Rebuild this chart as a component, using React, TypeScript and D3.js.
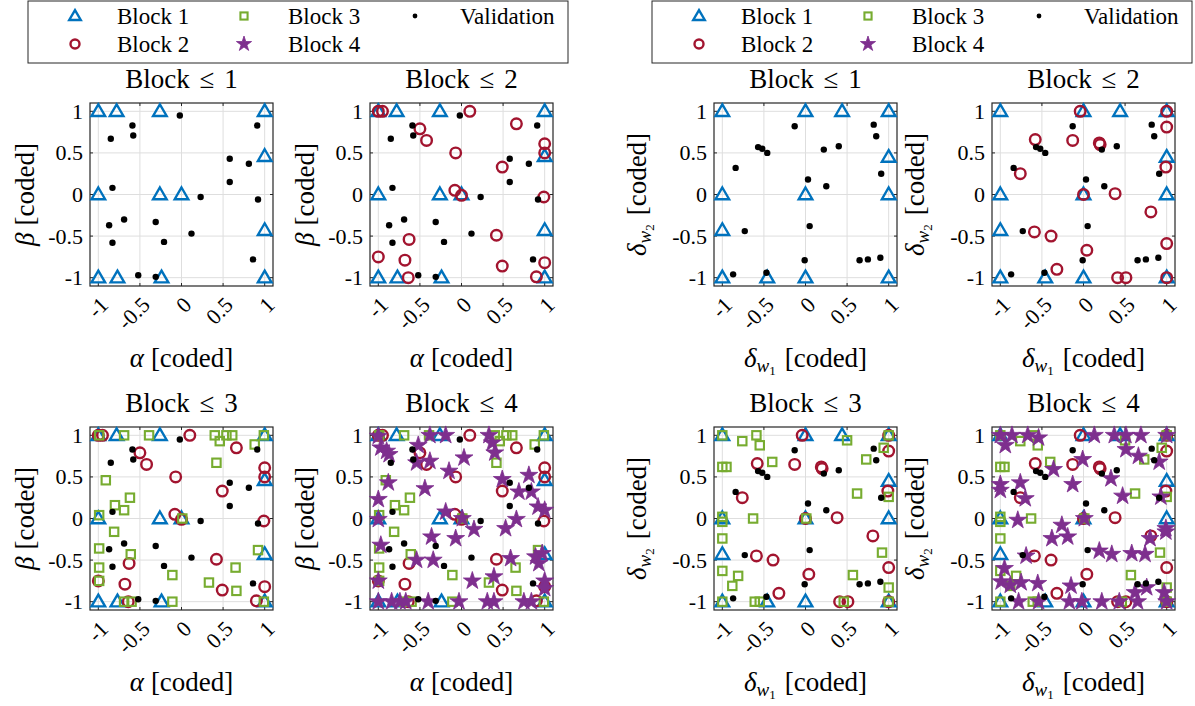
import React from "react";
import * as d3 from "d3";

type Pt = [number, number];

const tickValues = [-1, -0.5, 0, 0.5, 1];
const tickLabels = ["-1", "-0.5", "0", "0.5", "1"];
const legendNames = ["Block 1", "Block 2", "Block 3", "Block 4", "Validation"];
const panelBlocks = [1, 2, 3, 4];

const leftBlock1: Pt[] = [[-1,1],[-0.78,1],[-0.26,1],[1,1],[1,0.46],[-1,0],[-0.26,0],[0,0],[1,-0.43],[-1,-1],[-0.77,-1],[-0.24,-1],[1,-1]];
const leftBlock2: Pt[] = [[-1,1],[-0.95,1],[0.1,1],[0.66,0.85],[-0.5,0.79],[-0.42,0.65],[-0.07,0.5],[1,0.61],[1,0.5],[0.49,0.33],[-0.08,0.05],[0,-0.01],[0.99,-0.03],[0.42,-0.49],[-0.63,-0.54],[-1,-0.75],[-0.68,-0.79],[0.49,-0.86],[1,-0.82],[-0.64,-1],[0.9,-0.99]];
const leftBlock3: Pt[] = [[-0.99,1],[-0.69,1],[-0.39,1],[0.4,1],[0.46,0.93],[0.54,1],[0.61,1],[0.99,1],[0.88,0.89],[0.42,0.67],[-0.91,0.46],[-0.62,0.25],[-0.8,0.16],[-0.69,0.1],[-0.99,0.04],[0.01,0],[-0.81,-0.16],[-0.99,-0.36],[0.92,-0.38],[-0.61,-0.43],[-0.99,-0.59],[0.65,-0.59],[-0.11,-0.68],[-0.99,-0.75],[0.33,-0.77],[0.66,-0.87],[-0.69,-1],[-0.6,-1],[-0.11,-1],[0.99,-1]];
const leftBlock4: Pt[] = [[-1,0.99],[-0.38,1],[-0.19,1],[0.33,1],[0.37,0.91],[-0.97,0.85],[-0.9,0.81],[-0.87,0.77],[-0.52,0.88],[-0.54,0.67],[-0.38,0.69],[0.03,0.73],[0.4,0.79],[-0.15,0.57],[-0.88,0.43],[0.49,0.47],[0.81,0.52],[0.69,0.32],[0.84,0.32],[-0.44,0.36],[-1,0.23],[0.92,0.14],[1,0.1],[-0.19,0.08],[0.01,0],[-1,-0.01],[0.66,-0.01],[0.53,-0.12],[0.15,-0.13],[-0.36,-0.22],[-0.07,-0.24],[-0.97,-0.32],[-0.54,-0.5],[-0.34,-0.5],[0.59,-0.48],[0.89,-0.46],[0.97,-0.42],[0.93,-0.54],[0.39,-0.7],[0.13,-0.75],[-1,-0.75],[1,-0.75],[1,-0.84],[-1,-1],[-0.84,-1],[-0.74,-1],[-0.67,-1],[-0.4,-1],[-0.03,-1],[0.31,-1],[0.39,-1],[0.75,-1],[0.84,-1]];
const leftValidation: Pt[] = [[-0.02,0.95],[-0.59,0.83],[0.91,0.83],[-0.85,0.67],[-0.58,0.71],[0.58,0.43],[0.81,0.37],[0.58,0.15],[-0.83,0.08],[0.23,-0.03],[0.92,-0.06],[-0.69,-0.3],[-0.87,-0.37],[-0.31,-0.33],[0.12,-0.47],[-0.83,-0.58],[-0.21,-0.57],[0.86,-0.78],[-0.52,-0.97],[-0.31,-0.99]];

const rightBlock1: Pt[] = [[-1,1],[0,1],[0.44,1],[1,1],[1,0.45],[-1,0],[0,0],[1,0],[-1,-0.43],[-1,-1],[-0.46,-1],[0,-1],[1,-1]];
const rightBlock2: Pt[] = [[-0.04,1],[1,1],[1,0.81],[-0.58,0.66],[-0.13,0.65],[0.19,0.62],[0.2,0.6],[0.99,0.33],[-0.76,0.25],[0,0],[0.38,0.01],[0.81,-0.21],[-0.59,-0.45],[-0.39,-0.5],[1,-0.59],[0.04,-0.67],[-0.32,-0.9],[0.41,-1],[0.51,-1],[1,-1]];
const rightBlock3: Pt[] = [[-1,1],[-0.76,0.93],[-0.59,1],[-0.55,0.88],[0.5,0.94],[1,1],[0.94,0.85],[0.73,0.71],[-0.4,0.68],[-1,0.62],[-0.95,0.62],[0.62,0.3],[1,0.26],[-1,0.02],[-1,-0.04],[-0.63,0],[0.01,0],[-1,-0.24],[0.92,-0.41],[-1,-0.63],[-0.81,-0.69],[-0.88,-0.81],[0.57,-0.68],[1,-0.83],[-1,-1],[-0.61,-1],[-0.55,-1],[0.46,-1],[1,-1]];
const rightBlock4: Pt[] = [[-1,1],[-0.86,1],[-0.67,1],[-0.54,0.97],[-0.94,0.88],[0.13,1],[0.37,1],[0.51,1],[0.69,1],[1,1],[0.51,0.83],[0.66,0.75],[0.91,0.68],[-0.01,0.71],[-0.36,0.59],[0.33,0.48],[-0.13,0.41],[-0.76,0.43],[-1,0.41],[-1,0.34],[-0.7,0.24],[0.47,0.27],[0.93,0.26],[-0.79,-0.02],[0.01,0],[-0.26,-0.08],[0.99,-0.12],[0.99,-0.16],[-0.38,-0.24],[-0.19,-0.22],[0.8,-0.24],[-0.69,-0.45],[0.19,-0.39],[0.34,-0.43],[0.58,-0.42],[0.74,-0.43],[-0.95,-0.6],[-0.99,-0.76],[-0.88,-0.8],[-0.75,-0.77],[-0.55,-0.78],[-0.15,-0.81],[0.76,-0.83],[0.62,-0.89],[0.97,-0.89],[-0.78,-1],[-0.54,-1],[-0.17,-1],[-0.02,-1],[0.22,-1],[0.43,-1],[0.65,-1],[1,-1]];
const rightValidation: Pt[] = [[-0.13,0.82],[0.82,0.84],[0.85,0.7],[-0.57,0.57],[-0.52,0.55],[-0.46,0.5],[0.22,0.54],[0.4,0.58],[-0.84,0.32],[0.91,0.25],[0.03,0.18],[0.25,0.1],[0.05,-0.38],[-0.73,-0.44],[-0.01,-0.79],[0.65,-0.79],[0.75,-0.78],[0.9,-0.76],[-0.87,-0.96],[-0.47,-0.94]];

const FONT = "'Liberation Serif', 'DejaVu Serif', 'Noto Serif', 'Times New Roman', Times, serif";
const COLORS = ["#0072BD", "#A2142F", "#77AC30", "#7E2F8E"];
const SIZE = 183;
const AXIS = "#262626";
const GRID = "#dedede";

function starPath(R: number): string {
  const pts: string[] = [];
  for (let i = 0; i < 10; i++) {
    const a = -Math.PI / 2 + (i * Math.PI) / 5;
    const r = i % 2 === 0 ? R : R * 0.382;
    pts.push(`${(r * Math.cos(a)).toFixed(2)},${(r * Math.sin(a)).toFixed(2)}`);
  }
  return "M" + pts.join("L") + "Z";
}

function Marker({ type, x, y, s = 1 }: { type: number; x: number; y: number; s?: number }) {
  const t = `translate(${x},${y})`;
  if (type === 0)
    return <path transform={t} d={`M0,${-7 * s}L${6.8 * s},${4.7 * s}L${-6.8 * s},${4.7 * s}Z`} fill="none" stroke={COLORS[0]} strokeWidth={2.4} strokeLinejoin="miter" />;
  if (type === 1) return <circle cx={x} cy={y} r={5.3 * s} fill="none" stroke={COLORS[1]} strokeWidth={2.4} />;
  if (type === 2) return <rect x={x - 4.2 * s} y={y - 4.2 * s} width={8.4 * s} height={8.4 * s} fill="none" stroke={COLORS[2]} strokeWidth={2.1} />;
  if (type === 3) return <path transform={t} d={starPath(9.4 * s)} fill={COLORS[3]} stroke={COLORS[3]} strokeWidth={0.8} />;
  return <circle cx={x} cy={y} r={3.2 * s} fill="#000" />;
}

function AxisLabel({ kind, x, y, rotate }: { kind: string; x: number; y: number; rotate?: boolean }) {
  const tr = rotate ? `translate(${x},${y}) rotate(-90)` : `translate(${x},${y})`;
  if (kind === "alpha" || kind === "beta") {
    return (
      <text transform={tr} textAnchor="middle" fontFamily={FONT} fontSize={27} fill="#000">
        <tspan fontStyle="italic">{kind === "alpha" ? "α" : "β"}</tspan>
        <tspan dx={7}>[coded]</tspan>
      </text>
    );
  }
  const sub = kind === "dw1" ? "1" : "2";
  return (
    <text transform={tr} textAnchor="middle" fontFamily={FONT} fontSize={27} fill="#000">
      <tspan fontStyle="italic">δ</tspan>
      <tspan fontStyle="italic" fontSize={19} dy={5}>w</tspan>
      <tspan fontSize={13} dy={3}>{sub}</tspan>
      <tspan dx={9} dy={-8}>[coded]</tspan>
    </text>
  );
}

function Panel({ x0, y0, k, blocks, validation, xKind, yKind, yLabelOff }: {
  x0: number; y0: number; k: number; blocks: Pt[][]; validation: Pt[]; xKind: string; yKind: string; yLabelOff: number;
}) {
  const xs = d3.scaleLinear().domain([-1.1, 1.1]).range([x0, x0 + SIZE]);
  const ys = d3.scaleLinear().domain([-1.1, 1.1]).range([y0 + SIZE, y0]);
  const bottom = y0 + SIZE;
  const right = x0 + SIZE;
  return (
    <g>
      <rect x={x0} y={y0} width={SIZE} height={SIZE} fill="#fff" />
      {tickValues.map((v) => (
        <g key={"g" + v}>
          <line x1={xs(v)} x2={xs(v)} y1={y0} y2={bottom} stroke={GRID} strokeWidth={1} />
          <line x1={x0} x2={right} y1={ys(v)} y2={ys(v)} stroke={GRID} strokeWidth={1} />
        </g>
      ))}
      {tickValues.map((v) => (
        <g key={"t" + v} stroke={AXIS} strokeWidth={1}>
          <line x1={xs(v)} x2={xs(v)} y1={bottom} y2={bottom - 3} />
          <line x1={xs(v)} x2={xs(v)} y1={y0} y2={y0 + 3} />
          <line x1={x0} x2={x0 + 3} y1={ys(v)} y2={ys(v)} />
          <line x1={right} x2={right - 3} y1={ys(v)} y2={ys(v)} />
        </g>
      ))}
      <rect x={x0} y={y0} width={SIZE} height={SIZE} fill="none" stroke={AXIS} strokeWidth={1.2} />
      {tickValues.map((v, i) => (
        <text key={"yl" + v} x={x0 - 7} y={ys(v)} textAnchor="end" dominantBaseline="central" fontFamily={FONT} fontSize={22} fill="#000">
          {tickLabels[i]}
        </text>
      ))}
      {tickValues.map((v, i) => (
        <text key={"xl" + v} transform={`translate(${xs(v) + 6},${bottom + 15}) rotate(-45)`} textAnchor="end" dominantBaseline="central" fontFamily={FONT} fontSize={22} fill="#000">
          {tickLabels[i]}
        </text>
      ))}
      <text x={(x0 + right) / 2} y={y0 - 15} textAnchor="middle" fontFamily={FONT} fontSize={27} wordSpacing={3} fill="#000">
        {`Block ≤ ${panelBlocks[k - 1]}`}
      </text>
      <AxisLabel kind={xKind} x={(x0 + right) / 2} y={bottom + 81} />
      <AxisLabel kind={yKind} x={x0 - yLabelOff} y={(y0 + bottom) / 2} rotate />
      {blocks.slice(0, k).map((pts, bi) =>
        pts.map((p, j) => <Marker key={`m${bi}-${j}`} type={bi} x={xs(p[0])} y={ys(p[1])} />)
      )}
      {validation.map((p, j) => (
        <Marker key={`v${j}`} type={4} x={xs(p[0])} y={ys(p[1])} />
      ))}
    </g>
  );
}

function Legend({ x0 }: { x0: number }) {
  const items = [
    { t: 0, mx: 75, tx: 117, y: 16 },
    { t: 1, mx: 75, tx: 117, y: 44 },
    { t: 2, mx: 244, tx: 288, y: 16 },
    { t: 3, mx: 244, tx: 288, y: 44 },
    { t: 4, mx: 415, tx: 460, y: 16 },
  ];
  return (
    <g>
      <rect x={x0 + 28} y={1} width={540} height={62} fill="#fff" stroke={AXIS} strokeWidth={1} />
      {items.map((it) => (
        <g key={it.t}>
          <Marker type={it.t} x={x0 + it.mx} y={it.y} s={it.t === 4 ? 0.75 : 0.85} />
          <text x={x0 + it.tx} y={it.y} dominantBaseline="central" fontFamily={FONT} fontSize={23} fill="#000">
            {legendNames[it.t]}
          </text>
        </g>
      ))}
    </g>
  );
}

const leftCols = [90, 370];
const rightCols = [714, 992];
const rows = [103, 427];

export default function App() {
  const leftBlocks = [leftBlock1, leftBlock2, leftBlock3, leftBlock4];
  const rightBlocks = [rightBlock1, rightBlock2, rightBlock3, rightBlock4];
  return (
    <svg width={1195} height={706} style={{ position: "absolute", left: 0, top: 0, display: "block", background: "#fff" }}>
      <rect x={0} y={0} width={1195} height={706} fill="#fff" />
      <Legend x0={0} />
      <Legend x0={624} />
      {panelBlocks.map((k, i) => (
        <Panel key={"L" + k} x0={leftCols[i % 2]} y0={rows[Math.floor(i / 2)]} k={k} blocks={leftBlocks} validation={leftValidation} xKind="alpha" yKind="beta" yLabelOff={56} />
      ))}
      {panelBlocks.map((k, i) => (
        <Panel key={"R" + k} x0={rightCols[i % 2]} y0={rows[Math.floor(i / 2)]} k={k} blocks={rightBlocks} validation={rightValidation} xKind="dw1" yKind="dw2" yLabelOff={68} />
      ))}
    </svg>
  );
}
